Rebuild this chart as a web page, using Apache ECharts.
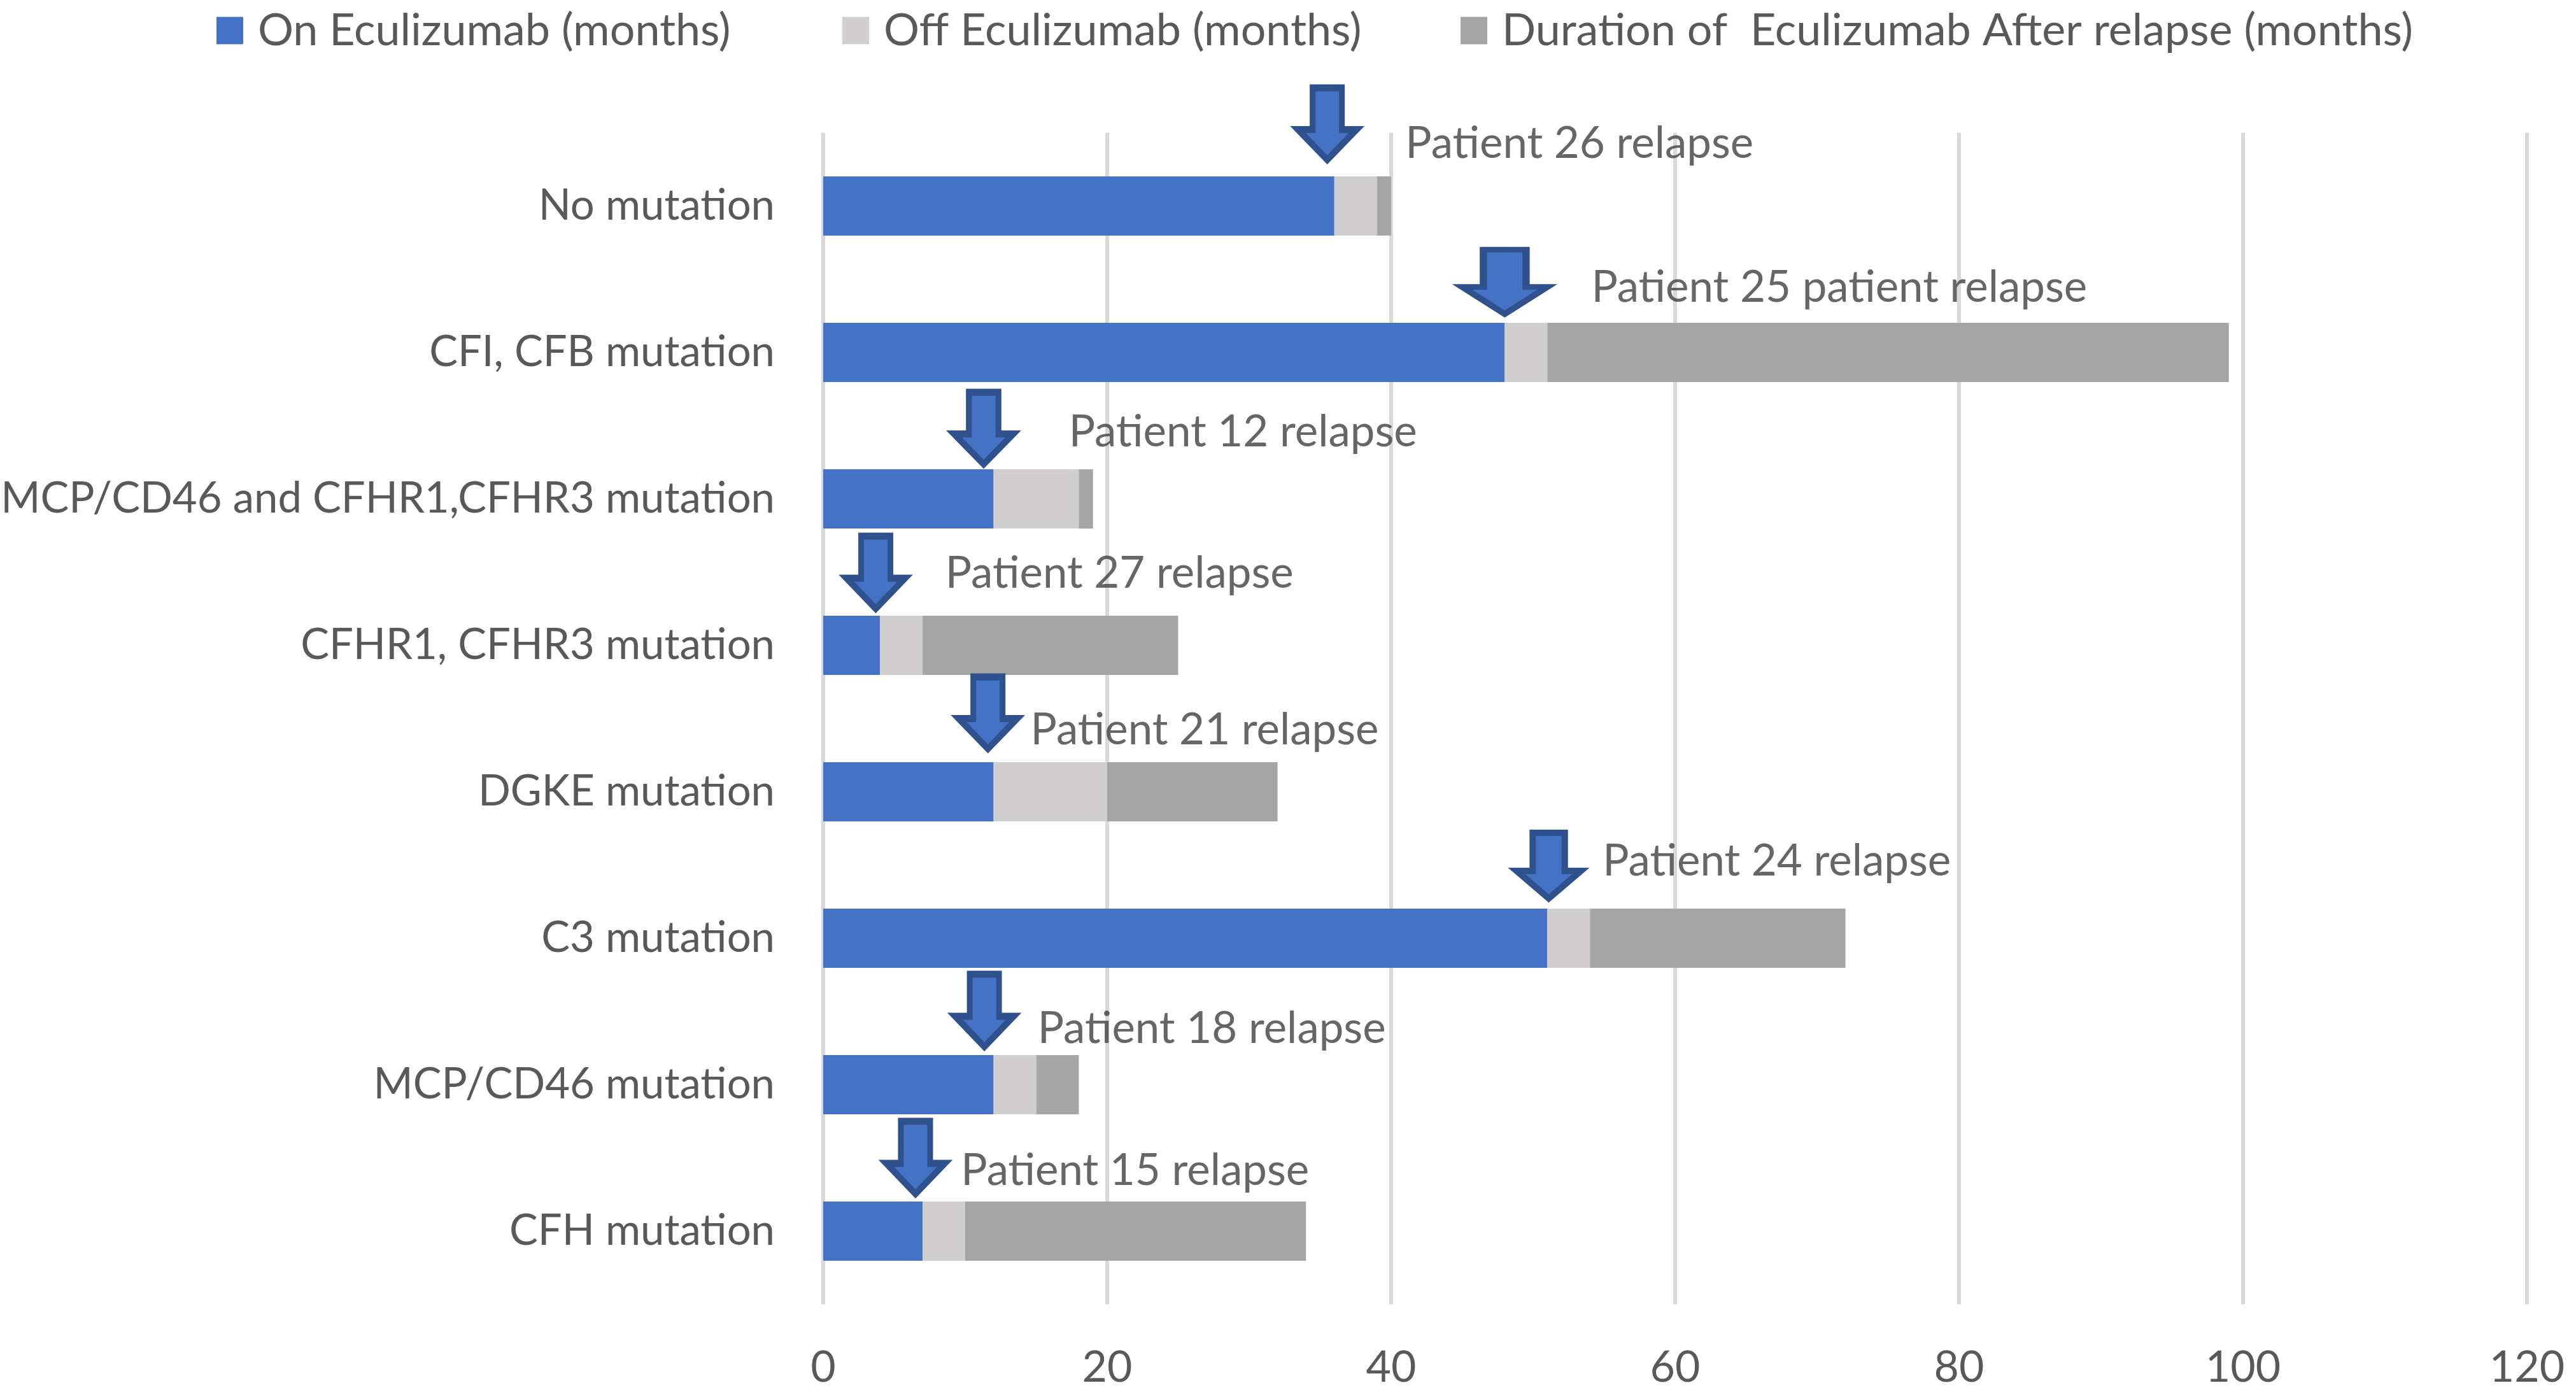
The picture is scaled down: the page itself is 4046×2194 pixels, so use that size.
<!DOCTYPE html>
<html><head><meta charset="utf-8">
<script src="https://cdn.jsdelivr.net/npm/echarts@6/dist/echarts.min.js"></script>
<style>html,body{margin:0;padding:0;background:#fff}#c{width:4046px;height:2194px}</style>
</head><body><div id="c"></div>
<script>
// ---- data ----
const categories = ['No mutation', 'CFI, CFB mutation', 'MCP/CD46 and CFHR1,CFHR3 mutation', 'CFHR1, CFHR3 mutation', 'DGKE mutation', 'C3 mutation', 'MCP/CD46 mutation', 'CFH mutation'];
const onEculizumab = [36, 48, 12, 4, 12, 51, 12, 7];
const offEculizumab = [3, 3, 6, 3, 8, 3, 3, 3];
const afterRelapse = [1, 48, 1, 18, 12, 18, 3, 24];
const seriesNames = ['On Eculizumab (months)', 'Off Eculizumab (months)', 'Duration of  Eculizumab After relapse (months)'];
const relapseText = ['Patient 26 relapse', 'Patient 25 patient relapse', 'Patient 12 relapse', 'Patient 27 relapse', 'Patient 21 relapse', 'Patient 24 relapse', 'Patient 18 relapse', 'Patient 15 relapse'];
const relapseAt = [35.5, 48, 11.3, 3.7, 11.6, 51.1, 11.35, 6.5];   // arrow tip (months)
const labelAt = [41.0, 54.1, 17.3, 8.6, 14.6, 54.9, 15.1, 9.7];      // annotation text start (months)
const xMin = 0, xMax = 120, xStep = 20;

// ---- styling (not data) ----
const FONT = 'Lato';
const colors = ['#4472C4', '#D0CECE', '#A5A5A5'];
const BAR_W = 93;
const arrowSize = [[102, 123], [144, 111], [103, 123], [102, 124], [102, 123], [111, 113], [102, 124], [102, 124]];
const arrowGap = [21, 9, 3, 6, 16, 11, 8, 7];
const labelDy = [-98, -102, -105, -113, -97, -121, -88, -95];
const ARROW_PATH = 'path://M25,0 L75,0 L75,58 L100,58 L50,100 L0,58 L25,58 Z';

const chart = echarts.init(document.getElementById('c'), null, {renderer: 'canvas'});

const barSeries = [onEculizumab, offEculizumab, afterRelapse].map((vals, i) => ({
  name: seriesNames[i], type: 'bar', stack: 'total', barWidth: BAR_W,
  itemStyle: {color: colors[i]}, data: vals, z: 2
}));

const arrowSeries = {
  type: 'scatter', name: 'arrows', z: 5, silent: true,
  symbol: ARROW_PATH, symbolKeepAspect: false,
  itemStyle: {color: '#4472C4', borderColor: '#2F528F', borderWidth: 10, opacity: 1},
  data: relapseAt.map((v, i) => ({
    value: [v, categories[i]],
    symbolSize: [arrowSize[i][0] - 10, arrowSize[i][1] - 10],
    symbolOffset: [0, -(BAR_W / 2 + arrowGap[i] + arrowSize[i][1] / 2)]
  }))
};

const labelSeries = {
  type: 'scatter', name: 'labels', z: 6, silent: true, symbolSize: 0,
  data: labelAt.map((v, i) => ({
    value: [v, categories[i]],
    label: {show: true, position: 'right', distance: 0, offset: [0, labelDy[i]],
      formatter: relapseText[i], fontFamily: FONT, fontSize: 69, color: '#404040'}
  }))
};

const legendLeft = [335, 1318, 2289];
const legends = seriesNames.map((n, i) => ({
  data: [n], left: legendLeft[i], top: 8, icon: 'rect', itemWidth: 42, itemHeight: 43,
  selectedMode: false,
  textStyle: {fontFamily: FONT, fontSize: 70, color: '#595959', padding: [0, 0, 0, 18]}
}));

chart.setOption({
  animation: false,
  backgroundColor: '#fff',
  textStyle: {fontFamily: FONT},
  legend: legends,
  grid: {left: 1293, right: 77, top: 208.5, bottom: 145.5, containLabel: false, outerBoundsMode: 'none'},
  xAxis: {
    type: 'value', min: xMin, max: xMax, interval: xStep,
    axisLine: {show: false}, axisTick: {show: false},
    splitLine: {show: true, lineStyle: {color: '#D9D9D9', width: 6}},
    axisLabel: {fontFamily: FONT, fontSize: 68, color: '#595959', margin: 66}
  },
  yAxis: {
    type: 'category', data: categories, inverse: true,
    axisLine: {show: false}, axisTick: {show: false}, splitLine: {show: false},
    axisLabel: {fontFamily: FONT, fontSize: 67, color: '#595959', margin: 76}
  },
  series: [...barSeries, arrowSeries, labelSeries]
});
</script>
</body></html>
